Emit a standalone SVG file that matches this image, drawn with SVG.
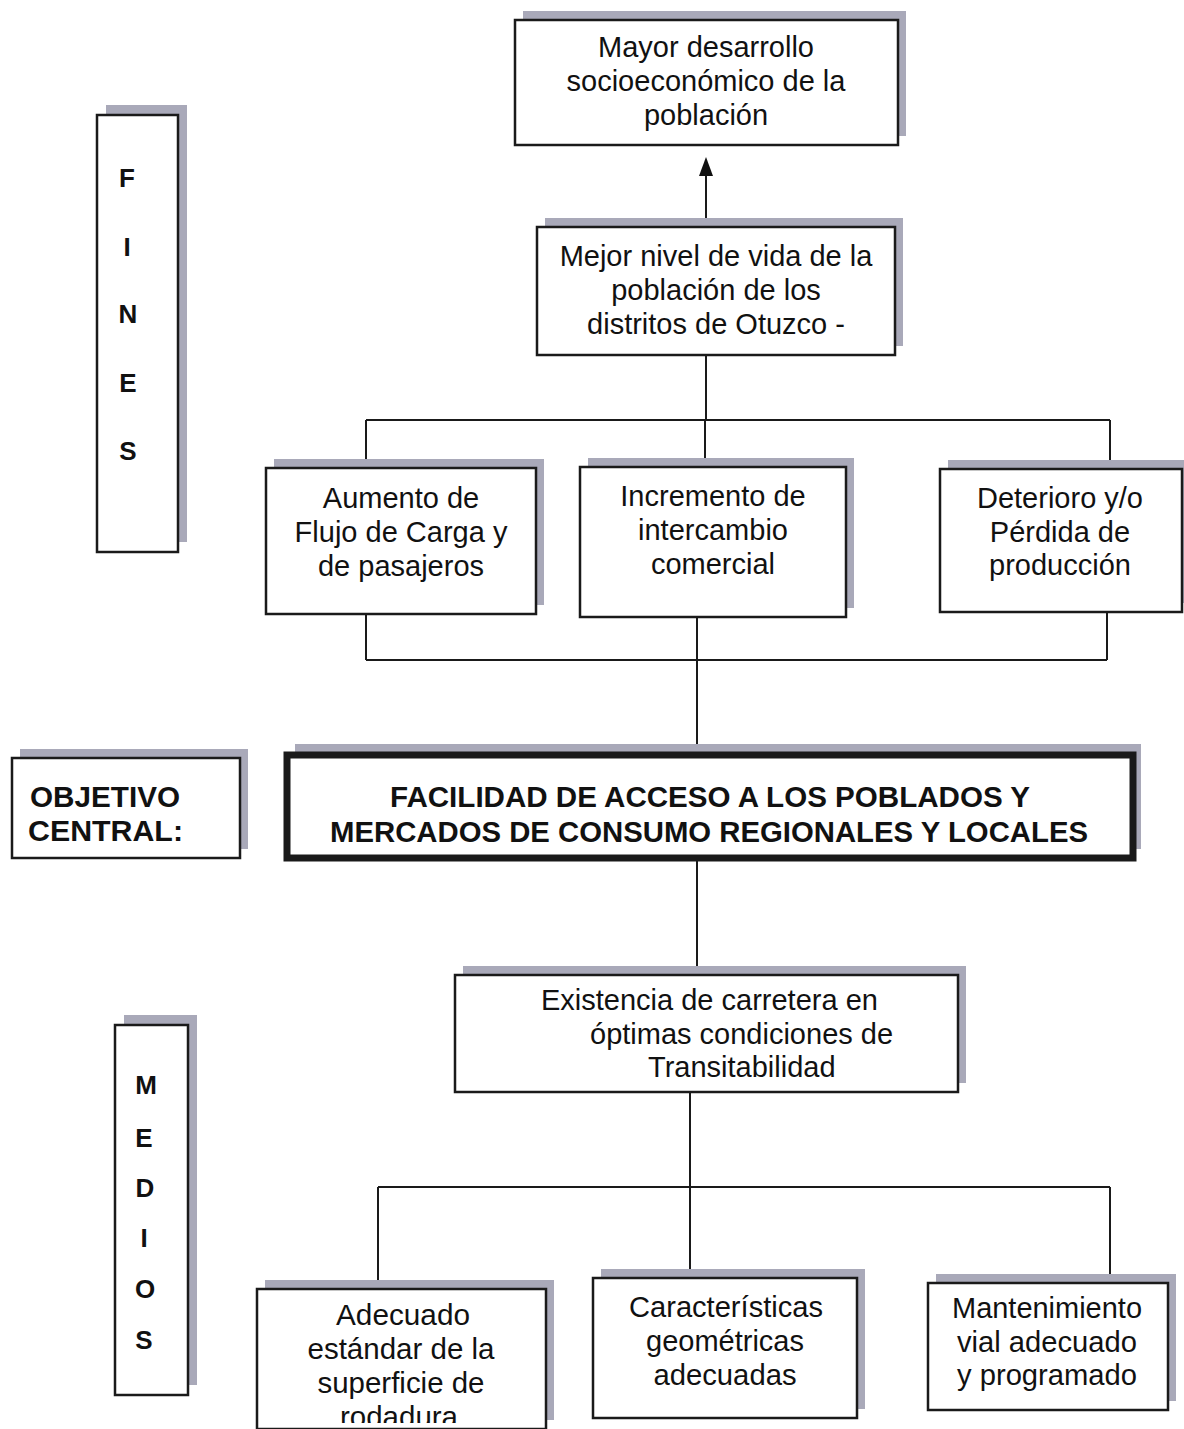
<svg xmlns="http://www.w3.org/2000/svg" width="1184" height="1429" viewBox="0 0 1184 1429">
<style>
.sh{fill:#a9a9b9}
.bx{fill:#ffffff;stroke:#1a1a1a;stroke-width:2.5}
.t{font-family:"Liberation Sans",Arial,sans-serif;font-size:29px;fill:#111;text-anchor:middle}
.n{font-size:30px}
.b{font-family:"Liberation Sans",Arial,sans-serif;font-weight:bold;font-size:26px;fill:#111;text-anchor:middle}
.bc{font-size:29px;text-anchor:start}
.c{stroke:#1a1a1a;stroke-width:2;fill:none}
</style>
<defs>
<clipPath id="clipA"><rect x="250" y="1280" width="310" height="143"/></clipPath>
</defs>
<rect width="1184" height="1429" fill="#ffffff"/>
<g id="connectors">
<line class="c" x1="706" y1="228" x2="706" y2="172"/>
<polygon points="706,157 699,176 713,176" fill="#111"/>
<line class="c" x1="706" y1="355" x2="706" y2="420"/>
<line class="c" x1="366" y1="420" x2="1110" y2="420"/>
<line class="c" x1="366" y1="420" x2="366" y2="468"/>
<line class="c" x1="705" y1="420" x2="705" y2="467"/>
<line class="c" x1="1110" y1="420" x2="1110" y2="469"/>
<line class="c" x1="366" y1="614" x2="366" y2="660"/>
<line class="c" x1="1107" y1="612" x2="1107" y2="660"/>
<line class="c" x1="366" y1="660" x2="1107" y2="660"/>
<line class="c" x1="697" y1="617" x2="697" y2="755"/>
<line class="c" x1="697" y1="858" x2="697" y2="975"/>
<line class="c" x1="690" y1="1092" x2="690" y2="1278"/>
<line class="c" x1="378" y1="1187" x2="1110" y2="1187"/>
<line class="c" x1="378" y1="1187" x2="378" y2="1289"/>
<line class="c" x1="1110" y1="1187" x2="1110" y2="1283"/>
</g>
<g id="n-mayor">
<rect class="sh" x="523" y="11" width="383" height="125"/>
<rect class="bx" x="515" y="20" width="383" height="125"/>
<text class="t" x="706" y="57">Mayor desarrollo</text>
<text class="t" x="706" y="91">socioeconómico de la</text>
<text class="t" x="706" y="125">población</text>
</g>
<g id="n-mejor">
<rect class="sh" x="545" y="218" width="358" height="128"/>
<rect class="bx" x="537" y="227" width="358" height="128"/>
<text class="t" x="716" y="266">Mejor nivel de vida de la</text>
<text class="t" x="716" y="300">población de los</text>
<text class="t" x="716" y="334">distritos de Otuzco -</text>
</g>
<g id="n-fines">
<rect class="sh" x="106" y="105" width="81" height="437"/>
<rect class="bx" x="97" y="115" width="81" height="437"/>
<text class="b" x="127" y="187">F</text>
<text class="b" x="127" y="256">I</text>
<text class="b" x="128" y="323">N</text>
<text class="b" x="128" y="392">E</text>
<text class="b" x="128" y="460">S</text>
</g>
<g id="n-aumento">
<rect class="sh" x="274" y="459" width="270" height="146"/>
<rect class="bx" x="266" y="468" width="270" height="146"/>
<text class="t" x="401" y="508">Aumento de</text>
<text class="t" x="401" y="542">Flujo de Carga y</text>
<text class="t" x="401" y="576">de pasajeros</text>
</g>
<g id="n-incremento">
<rect class="sh" x="588" y="458" width="266" height="150"/>
<rect class="bx" x="580" y="467" width="266" height="150"/>
<text class="t" x="713" y="506">Incremento de</text>
<text class="t" x="713" y="540">intercambio</text>
<text class="t" x="713" y="574">comercial</text>
</g>
<g id="n-deterioro">
<rect class="sh" x="948" y="460" width="242" height="143"/>
<rect class="bx" x="940" y="469" width="242" height="143"/>
<text class="t" x="1060" y="508">Deterioro y/o</text>
<text class="t" x="1060" y="542">Pérdida de</text>
<text class="t" x="1060" y="575">producción</text>
</g>
<g id="n-objetivo">
<rect class="sh" x="20" y="749" width="228" height="100"/>
<rect class="bx" x="12" y="758" width="228" height="100"/>
<text class="b bc" x="30" y="807" textLength="150" lengthAdjust="spacingAndGlyphs">OBJETIVO</text>
<text class="b bc" x="28" y="841" textLength="155" lengthAdjust="spacingAndGlyphs">CENTRAL:</text>
</g>
<g id="n-central">
<rect class="sh" x="295" y="744" width="846" height="105"/>
<rect x="287" y="755" width="846" height="103" fill="#ffffff" stroke="#1a1a1a" stroke-width="7"/>
<text class="b bc" x="390" y="807" textLength="640" lengthAdjust="spacingAndGlyphs">FACILIDAD DE ACCESO A LOS POBLADOS Y</text>
<text class="b bc" x="330" y="842" textLength="758" lengthAdjust="spacingAndGlyphs">MERCADOS DE CONSUMO REGIONALES Y LOCALES</text>
</g>
<g id="n-existencia">
<rect class="sh" x="463" y="966" width="503" height="117"/>
<rect class="bx" x="455" y="975" width="503" height="117"/>
<text class="t" x="541" y="1010" style="text-anchor:start">Existencia de carretera en</text>
<text class="t" x="590" y="1044" style="text-anchor:start">óptimas condiciones de</text>
<text class="t" x="648" y="1077" style="text-anchor:start">Transitabilidad</text>
</g>
<g id="n-medios">
<rect class="sh" x="124" y="1015" width="73" height="370"/>
<rect class="bx" x="115" y="1025" width="73" height="370"/>
<text class="b" x="146" y="1094">M</text>
<text class="b" x="144" y="1147">E</text>
<text class="b" x="145" y="1197">D</text>
<text class="b" x="144" y="1247">I</text>
<text class="b" x="145" y="1298">O</text>
<text class="b" x="144" y="1349">S</text>
</g>
<g id="n-adecuado">
<rect class="sh" x="265" y="1280" width="289" height="140"/>
<rect class="bx" x="257" y="1289" width="289" height="140"/>
<g clip-path="url(#clipA)">
<text class="t n" x="403" y="1325" textLength="134" lengthAdjust="spacingAndGlyphs">Adecuado</text>
<text class="t n" x="401" y="1359" textLength="187" lengthAdjust="spacingAndGlyphs">estándar de la</text>
<text class="t n" x="401" y="1393" textLength="167" lengthAdjust="spacingAndGlyphs">superficie de</text>
<text class="t n" x="399" y="1427" textLength="118" lengthAdjust="spacingAndGlyphs">rodadura</text>
</g>
</g>
<g id="n-caracteristicas">
<rect class="sh" x="601" y="1269" width="264" height="140"/>
<rect class="bx" x="593" y="1278" width="264" height="140"/>
<text class="t n" x="726" y="1317" textLength="194" lengthAdjust="spacingAndGlyphs">Características</text>
<text class="t n" x="725" y="1351" textLength="158" lengthAdjust="spacingAndGlyphs">geométricas</text>
<text class="t n" x="725" y="1385" textLength="143" lengthAdjust="spacingAndGlyphs">adecuadas</text>
</g>
<g id="n-mantenimiento">
<rect class="sh" x="936" y="1274" width="240" height="127"/>
<rect class="bx" x="928" y="1283" width="240" height="127"/>
<text class="t n" x="1047" y="1318" textLength="190" lengthAdjust="spacingAndGlyphs">Mantenimiento</text>
<text class="t n" x="1047" y="1352" textLength="180" lengthAdjust="spacingAndGlyphs">vial adecuado</text>
<text class="t n" x="1047" y="1385" textLength="180" lengthAdjust="spacingAndGlyphs">y programado</text>
</g>
</svg>
